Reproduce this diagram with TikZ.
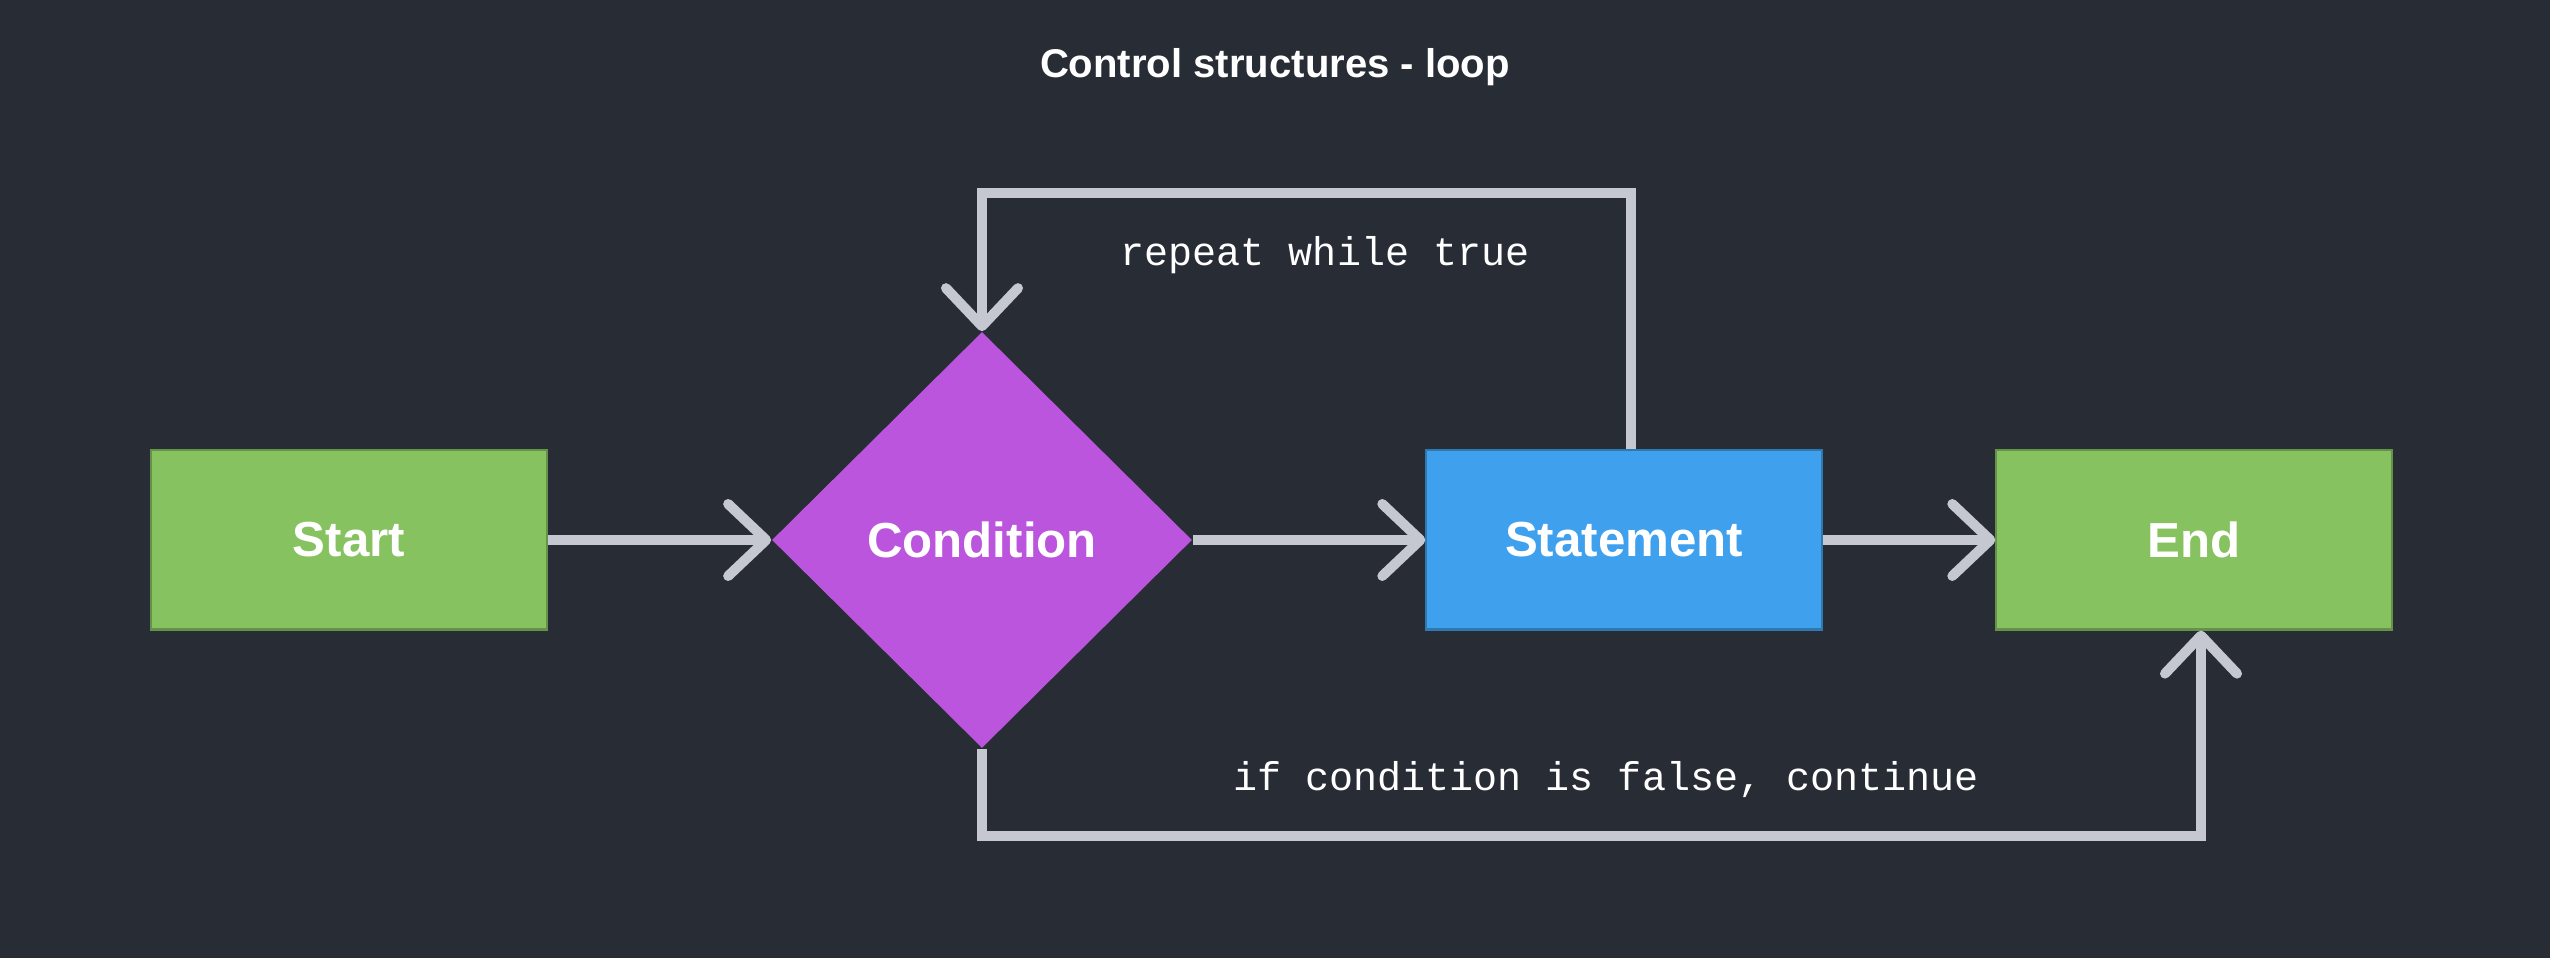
\documentclass[tikz,border=0pt]{standalone}
\usepackage{fontspec}
\setmainfont{Liberation Sans}
\newfontfamily\monof{Liberation Mono}
\usetikzlibrary{shapes.geometric,arrows.meta,calc}
\definecolor{bg}{HTML}{282C35}
\definecolor{boxgreen}{HTML}{87C260}
\definecolor{boxpurple}{HTML}{BB55DD}
\definecolor{boxblue}{HTML}{3FA0EE}
\definecolor{conncol}{HTML}{C5C8D0}
\tikzset{
  procbox/.style={rectangle, draw=#1!75!black, line width=0.6pt, fill=#1, minimum width=3.95cm, minimum height=1.79cm, inner sep=0pt, text=white, font=\fontsize{14}{16}\selectfont\bfseries},
  decbox/.style={diamond, fill=boxpurple, shape aspect=1, minimum width=4.2cm, minimum height=4.16cm, inner sep=0pt, text=white, font=\fontsize{14}{16}\selectfont\bfseries},
  conn/.style={draw=conncol, line width=0.1cm, -{Straight Barb[length=0.38cm,width=0.72cm,round]}},
  monolabel/.style={text=white, font=\monof\fontsize{11.4}{13}\selectfont, inner sep=0pt},
  titlelabel/.style={text=white, font=\fontsize{11.4}{13}\selectfont\bfseries, inner sep=0pt}
}
\begin{document}
\begin{tikzpicture}[x=0.01cm,y=-0.01cm]
  \fill[bg] (0,0) rectangle (2550,958);
  \useasboundingbox (0,0) rectangle (2550,958);
  \node[titlelabel] (title) at (1275,67) {Control structures - loop};
  \node[procbox=boxgreen] (start) at (349,540) {Start};
  \node[decbox] (cond) at (982,540) {Condition};
  \node[procbox=boxblue] (stmt) at (1624,540) {Statement};
  \node[procbox=boxgreen] (endn) at (2194,540) {End};
  \coordinate (toprow) at (0,193);
  \coordinate (botrow) at (0,836);
  \coordinate (stmtout) at ([xshift=0.07cm]stmt.north);
  \coordinate (endin) at ([xshift=0.07cm]endn.south);
  \draw[conn] (start.east) -- (cond.west);
  \draw[conn] (cond.east) -- (stmt.west);
  \draw[conn] (stmt.east) -- (endn.west);
  \draw[conn] (stmtout) |- (cond.north |- toprow) -- (cond.north);
  \draw[conn] (cond.south) |- (endin |- botrow) -- (endin);
  \node[monolabel] (lbltop) at (1325,255) {repeat while true};
  \node[monolabel] (lblbot) at (1606,780) {if condition is false, continue};
\end{tikzpicture}
\end{document}
